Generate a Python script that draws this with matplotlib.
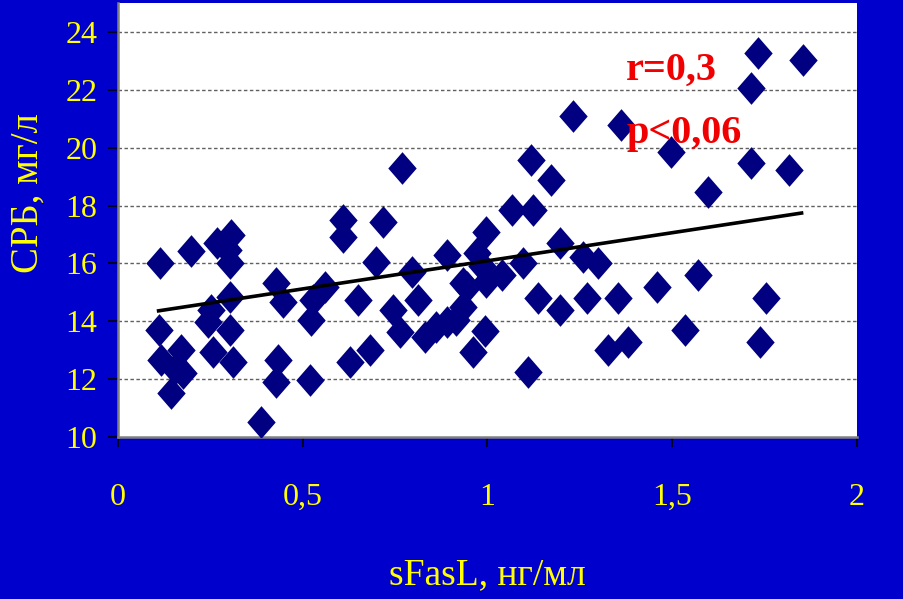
"""
Scatter of CRP vs sFasL with linear trend line.
"""
import numpy as np
import matplotlib
matplotlib.use("Agg")
import matplotlib.pyplot as plt

# -------------------- Data --------------------
sfasl = [
    0.115, 0.197, 0.269, 0.307, 0.298, 0.302, 0.110, 0.117, 0.171, 0.176,
    0.143, 0.302, 0.253, 0.244, 0.302, 0.257, 0.311, 0.155,
    0.386, 0.428, 0.447, 0.433, 0.428, 0.522, 0.519, 0.560, 0.528,
    0.610, 0.610, 0.718, 0.698, 0.650, 0.628, 0.682, 0.770, 0.745,
    0.763, 0.795, 0.813, 0.831,
    0.890, 0.890, 0.935, 0.944, 0.916, 0.935, 0.995, 0.971, 0.993, 0.962,
    0.997, 1.038, 0.984, 0.860,
    1.065, 1.124, 1.119, 1.171, 1.196, 1.097, 1.259, 1.300, 1.138, 1.196,
    1.268, 1.110, 1.232, 1.327,
    1.361, 1.354, 1.381, 1.458, 1.498, 1.535, 1.571, 1.598, 1.712, 1.733,
    1.853, 1.712, 1.817, 1.753, 1.737,
]
crp = [
    16.02, 16.44, 16.70, 16.98, 16.46, 16.00, 13.70, 12.66, 13.00, 12.20,
    11.51, 14.85, 14.39, 13.99, 13.70, 12.95, 12.60, 12.35,
    10.53, 15.31, 14.68, 12.66, 11.91, 14.04, 11.97, 15.20, 14.74,
    17.50, 16.92, 17.44, 16.06, 14.74, 12.60, 13.00, 19.29, 14.39,
    13.64, 15.71, 14.74, 13.47,
    13.99, 16.29, 14.50, 15.20, 14.04, 15.31, 17.10, 16.35, 13.65, 12.92,
    15.37, 15.60, 15.90, 13.80,
    17.85, 17.85, 19.57, 18.88, 16.70, 16.00, 16.23, 16.00, 14.79, 14.39,
    14.79, 12.26, 21.10, 13.00,
    20.78, 14.79, 13.29, 15.20, 19.86, 13.70, 15.60, 18.48, 22.05, 23.26,
    23.03, 19.48, 19.23, 14.79, 13.29,
]

# trend line ends
trend_x = [0.11, 1.85]
trend_y = [14.36, 17.74]

x_ticks = [0, 0.5, 1, 1.5, 2]
x_tick_labels = ["0", "0,5", "1", "1,5", "2"]
y_ticks = [10, 12, 14, 16, 18, 20, 22, 24]

r_text = "r=0,3"
p_text = "p<0,06"

# -------------------- Style --------------------
BG = "#0000CC"
YELLOW = "#FFFF00"
NAVY = "#000080"
SERIF = ["Liberation Serif", "DejaVu Serif"]

diamond = [(0, 1), (0.87, 0), (0, -1), (-0.87, 0), (0, 1)]

fig = plt.figure(figsize=(9.04, 5.99), dpi=100, facecolor=BG)
ax = fig.add_axes([0.1305, 0.2705, 0.8175, 0.7245])
ax.set_facecolor("white")

ax.set_xlim(0, 2)
ax.set_ylim(10, 25)

for yv in y_ticks[1:]:
    ax.axhline(yv, color="#606060", lw=1.0, ls=(0, (2.5, 1.8)), zorder=1)

ax.plot(sfasl, crp, ls="none", marker=diamond, ms=23.5, mfc=NAVY, mec=NAVY,
        mew=0, zorder=3)
ax.plot(trend_x, trend_y, color="black", lw=2.6, zorder=4)

ax.text(1.375, 22.34, r_text, color="#F00000", fontsize=29, fontweight="bold",
        family=SERIF, zorder=5)
ax.text(1.375, 20.16, p_text, color="#F00000", fontsize=29, fontweight="bold",
        family=SERIF, zorder=5)

ax.set_xticks(x_ticks)
ax.set_xticklabels(x_tick_labels)
ax.set_yticks(y_ticks)
ax.tick_params(axis="both", direction="out", color="black", length=7,
               width=1.2, labelcolor=YELLOW, labelsize=23)
ax.tick_params(axis="x", pad=26)
ax.tick_params(axis="y", pad=8)
for lab in ax.get_xticklabels() + ax.get_yticklabels():
    lab.set_family(SERIF)

for side in ["top", "right"]:
    ax.spines[side].set_visible(False)
for side in ["left", "bottom"]:
    ax.spines[side].set_color("#808080")
    ax.spines[side].set_linewidth(1.8)

ax.set_xlabel("sFasL, нг/мл", color=YELLOW, fontsize=27, family=SERIF, va="center")
ax.xaxis.set_label_coords(0.5, -0.318)
ax.set_ylabel("СРБ, мг/л", color=YELLOW, fontsize=28, family=SERIF, va="center")
ax.yaxis.set_label_coords(-0.122, 0.562)

fig.savefig("out.png", dpi=100, facecolor=BG)
